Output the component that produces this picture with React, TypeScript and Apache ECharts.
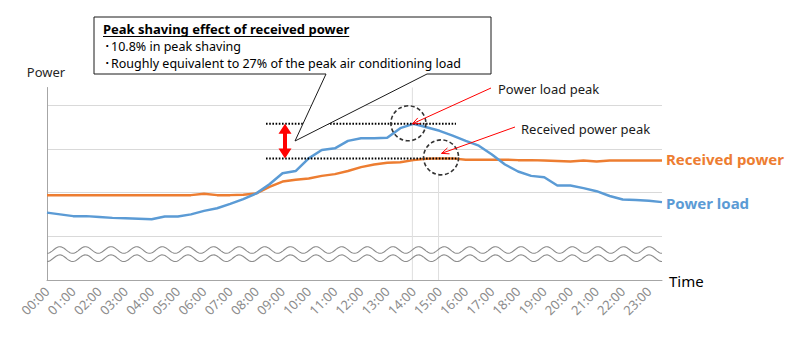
import React, { useEffect, useRef } from "react";
import * as echarts from "echarts";

const timeLabels: string[] = [
  "00:00", "00:30", "01:00", "01:30", "02:00", "02:30", "03:00", "03:30",
  "04:00", "04:30", "05:00", "05:30", "06:00", "06:30", "07:00", "07:30",
  "08:00", "08:30", "09:00", "09:30", "10:00", "10:30", "11:00", "11:30",
  "12:00", "12:30", "13:00", "13:30", "14:00", "14:30", "15:00", "15:30",
  "16:00", "16:30", "17:00", "17:30", "18:00", "18:30", "19:00", "19:30",
  "20:00", "20:30", "21:00", "21:30", "22:00", "22:30", "23:00", "23:30",
];

const powerLoad: number[] = [
  1.54, 1.5, 1.46, 1.46, 1.44, 1.42, 1.41, 1.4,
  1.39, 1.45, 1.45, 1.5, 1.58, 1.64, 1.74, 1.85,
  1.98, 2.19, 2.44, 2.49, 2.78, 2.97, 3.01, 3.18,
  3.24, 3.24, 3.25, 3.47, 3.57, 3.49, 3.41, 3.3,
  3.18, 3.07, 2.87, 2.64, 2.48, 2.38, 2.35, 2.16,
  2.16, 2.1, 2.03, 1.92, 1.84, 1.83, 1.81, 1.78,
];

const receivedPower: number[] = [
  1.94, 1.94, 1.94, 1.94, 1.94, 1.94, 1.94, 1.94,
  1.94, 1.94, 1.94, 1.94, 1.97, 1.94, 1.94, 1.95,
  1.98, 2.13, 2.25, 2.29, 2.32, 2.38, 2.42, 2.49,
  2.58, 2.64, 2.68, 2.69, 2.74, 2.77, 2.78, 2.78,
  2.75, 2.75, 2.75, 2.75, 2.74, 2.74, 2.73, 2.72,
  2.71, 2.73, 2.71, 2.73, 2.73, 2.73, 2.73, 2.73,
];

const calloutTitle = "Peak shaving effect of received power";
const calloutLines = [
  "\uFF6510.8% in peak shaving",
  "\uFF65Roughly equivalent to 27% of the peak air conditioning load",
];

const BLUE = "#5B9BD5";
const ORANGE = "#ED7D31";
const FONT = '"Noto Sans", sans-serif';

function measure(text: string, font: string): number {
  const c = document.createElement("canvas").getContext("2d");
  if (!c) return text.length * 7;
  c.font = font;
  return c.measureText(text).width;
}

function arrowHead(tip: number[], from: number[], len = 8, ang = 0.4): number[][] {
  const a = Math.atan2(from[1] - tip[1], from[0] - tip[0]);
  return [
    [tip[0] + len * Math.cos(a + ang), tip[1] + len * Math.sin(a + ang)],
    [tip[0], tip[1]],
    [tip[0] + len * Math.cos(a - ang), tip[1] + len * Math.sin(a - ang)],
  ];
}

export default function App() {
  const ref = useRef<HTMLDivElement>(null);
  useEffect(() => {
    if (!ref.current) return;
    const chart = echarts.init(ref.current, undefined, { renderer: "svg" });
    chart.setOption({
      animation: false,
      grid: { left: 47, right: 130, top: 87.5, bottom: 61 },
      xAxis: {
        type: "category",
        data: timeLabels,
        boundaryGap: false,
        axisLine: { lineStyle: { color: "#a6a6a6", width: 1 } },
        axisTick: { show: false },
        axisLabel: {
          interval: 1,
          rotate: 45,
          color: "#8c8c8c",
          fontSize: 13,
          fontFamily: FONT,
          margin: 9,
        },
        splitLine: { show: false },
      },
      yAxis: {
        type: "value",
        min: 0,
        max: 4.4,
        interval: 1,
        axisLine: { show: true, lineStyle: { color: "#a6a6a6", width: 1 } },
        axisTick: { show: false },
        axisLabel: { show: false },
        splitLine: {
          show: true,
          showMinLine: false,
          showMaxLine: false,
          lineStyle: { color: "#d9d9d9", width: 1 },
        },
      },
      series: [
        {
          name: "Received power",
          type: "line",
          data: receivedPower,
          symbol: "none",
          lineStyle: { color: ORANGE, width: 2.5 },
          z: 3,
        },
        {
          name: "Power load",
          type: "line",
          data: powerLoad,
          symbol: "none",
          lineStyle: { color: BLUE, width: 2.5 },
          z: 4,
        },
      ],
    });

    const px = (i: number, v: number) =>
      chart.convertToPixel({ xAxisIndex: 0, yAxisIndex: 0 }, [i, v]) as number[];

    const loadMax = Math.max(...powerLoad);
    const recvMax = Math.max(...receivedPower);
    const loadIdx = powerLoad.indexOf(loadMax);
    const recvIdx = receivedPower.indexOf(recvMax);
    const pL = px(loadIdx, loadMax);
    const pR = px(recvIdx, recvMax);
    const [x0, yBase] = px(0, 0);
    const [x1, yTop] = px(timeLabels.length - 1, 4.4);

    const wave = (cy: number) => {
      const pts: number[][] = [];
      const period = (x1 - x0) / 24;
      for (let x = x0; x <= x1 + 0.01; x += 1) {
        pts.push([x, cy + 3.3 * Math.cos((2 * Math.PI * (x - x0)) / period)]);
      }
      return pts;
    };

    const titleFont = `bold 13px ${FONT}`;
    const bodyFont = `12.5px ${FONT}`;
    const titleW = measure(calloutTitle, titleFont);

    const arrowX = 285;
    const aTop = pL[1];
    const aBot = pR[1];
    const hw = 6.5;
    const hl = 10;
    const sw = 2;

    const tip1 = [pL[0] - 1, pL[1]];
    const tail1 = [491, 88];
    const tip2 = [pR[0] + 2, pR[1] - 5];
    const tail2 = [515, 127];

    const Z = 20;
    const elements: any[] = [
      // drop lines
      { type: "line", z: 1, shape: { x1: pL[0] - 1, y1: yTop, x2: pL[0] - 1, y2: yBase }, style: { stroke: "#dedede", lineWidth: 1 } },
      { type: "line", z: 1, shape: { x1: pR[0] - 1, y1: pR[1] + 15, x2: pR[0] - 1, y2: yBase }, style: { stroke: "#dedede", lineWidth: 1 } },
      // axis break waves
      { type: "polyline", z: Z, shape: { points: wave(yBase - 30) }, style: { stroke: "#8c8c8c", lineWidth: 1.1, fill: null } },
      { type: "polyline", z: Z, shape: { points: wave(yBase - 21.8) }, style: { stroke: "#8c8c8c", lineWidth: 1.1, fill: null } },
      // dotted peak lines
      { type: "line", z: Z, shape: { x1: 266, y1: pL[1], x2: 456, y2: pL[1] }, style: { stroke: "#000", lineWidth: 2, lineDash: [1.6, 1.6] } },
      { type: "line", z: Z, shape: { x1: 266, y1: pR[1], x2: 457, y2: pR[1] }, style: { stroke: "#000", lineWidth: 2, lineDash: [1.6, 1.6] } },
      // dashed circles
      { type: "circle", z: Z, shape: { cx: pL[0] - 5, cy: pL[1] - 0.5, r: 17.5 }, style: { stroke: "#333", lineWidth: 1.6, lineDash: [4, 2.5], fill: null } },
      { type: "circle", z: Z, shape: { cx: pR[0] + 1.5, cy: pR[1] - 1, r: 17.5 }, style: { stroke: "#333", lineWidth: 1.6, lineDash: [4, 2.5], fill: null } },
      // red double arrow
      {
        type: "polygon",
        z: Z,
        shape: {
          points: [
            [arrowX, aTop], [arrowX + hw, aTop + hl], [arrowX + sw, aTop + hl],
            [arrowX + sw, aBot - hl], [arrowX + hw, aBot - hl], [arrowX, aBot],
            [arrowX - hw, aBot - hl], [arrowX - sw, aBot - hl], [arrowX - sw, aTop + hl],
            [arrowX - hw, aTop + hl],
          ],
        },
        style: { fill: "#ff0000", stroke: null },
      },
      // red pointer arrows
      { type: "line", z: Z, shape: { x1: tail1[0], y1: tail1[1], x2: tip1[0], y2: tip1[1] }, style: { stroke: "#ff0000", lineWidth: 1 } },
      { type: "polyline", z: Z, shape: { points: arrowHead(tip1, tail1) }, style: { stroke: "#ff0000", lineWidth: 1, fill: null } },
      { type: "line", z: Z, shape: { x1: tail2[0], y1: tail2[1], x2: tip2[0], y2: tip2[1] }, style: { stroke: "#ff0000", lineWidth: 1 } },
      { type: "polyline", z: Z, shape: { points: arrowHead(tip2, tail2) }, style: { stroke: "#ff0000", lineWidth: 1, fill: null } },
      // callout
      {
        type: "polygon",
        z: Z,
        shape: {
          points: [[94, 17], [491, 17], [491, 74], [427, 74], [295, 141], [326, 74], [94, 74]],
        },
        style: { fill: "#fff", stroke: "#1a1a1a", lineWidth: 1 },
      },
      { type: "text", z: Z + 1, style: { text: calloutTitle, x: 103, y: 28.5, font: titleFont, lineHeight: 13, fill: "#000", textVerticalAlign: "middle" } },
      { type: "line", z: Z + 1, shape: { x1: 103, y1: 36.5, x2: 103 + titleW, y2: 36.5 }, style: { stroke: "#000", lineWidth: 1 } },
      { type: "text", z: Z + 1, style: { text: calloutLines[0], x: 104, y: 46, font: bodyFont, lineHeight: 12.5, fill: "#000", textVerticalAlign: "middle" } },
      { type: "text", z: Z + 1, style: { text: calloutLines[1], x: 104, y: 63, font: bodyFont, lineHeight: 12.5, fill: "#000", textVerticalAlign: "middle" } },
      // labels
      { type: "text", z: Z, style: { text: "Power", x: 46, y: 72, font: `13px ${FONT}`, fill: "#262626", textAlign: "center", textVerticalAlign: "middle" } },
      { type: "text", z: Z, style: { text: "Time", x: 669, y: yBase + 0.5, font: `15px ${FONT}`, fill: "#000", textVerticalAlign: "middle" } },
      { type: "text", z: Z, style: { text: "Power load peak", x: 498, y: 88.5, font: `13px ${FONT}`, fill: "#1a1a1a", textVerticalAlign: "middle" } },
      { type: "text", z: Z, style: { text: "Received power peak", x: 521, y: 128.5, font: `13px ${FONT}`, fill: "#1a1a1a", textVerticalAlign: "middle" } },
      { type: "text", z: Z, style: { text: "Received power", x: 666, y: px(timeLabels.length - 1, receivedPower[receivedPower.length - 1])[1] - 2, font: `bold 15px ${FONT}`, fill: ORANGE, textVerticalAlign: "middle" } },
      { type: "text", z: Z, style: { text: "Power load", x: 666, y: px(timeLabels.length - 1, powerLoad[powerLoad.length - 1])[1] + 1, font: `bold 15px ${FONT}`, fill: BLUE, textVerticalAlign: "middle" } },
    ];

    chart.setOption({ graphic: { elements } });

    return () => chart.dispose();
  }, []);

  return (
    <div
      ref={ref}
      style={{ position: "fixed", left: 0, top: 0, width: 792, height: 341, background: "#fff" }}
    />
  );
}
